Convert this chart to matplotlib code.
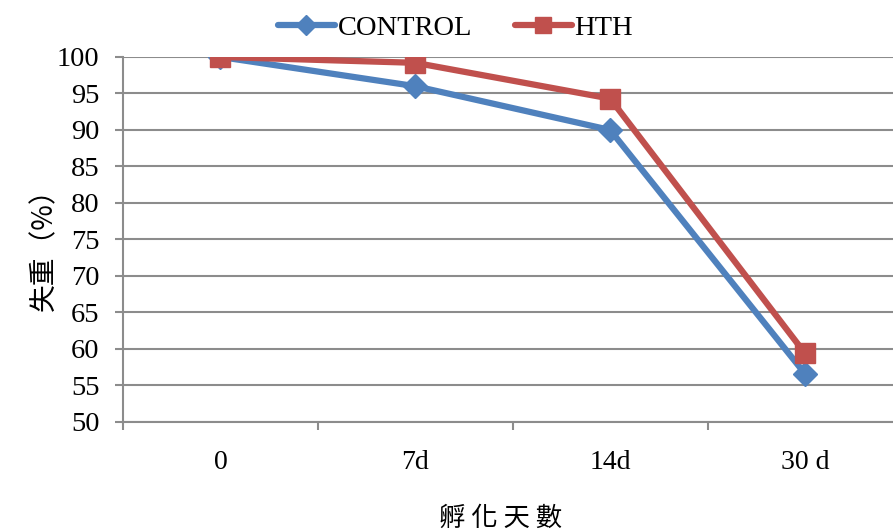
import numpy as np
import matplotlib.pyplot as plt
from matplotlib.lines import Line2D

# 孵化天數ごとの失重データ
days = ['0', '7d', '14d', '30 d']
control = [100, 96.0, 90.0, 56.6]
hth = [100, 99.2, 94.3, 59.4]

blue = '#4F81BD'
red = '#C0504D'
grid_gray = '#8C8C8C'

plt.rcParams['font.family'] = ['Liberation Serif', 'Noto Sans CJK TC']

fig = plt.figure(figsize=(8.93, 5.32), dpi=100)
ax = fig.add_axes([0.1377, 0.2068, 0.8729, 0.6861])

x = np.arange(len(days))
ax.plot(x, control, color=blue, lw=4.5, marker='D', ms=12, mfc=blue, mec=blue,
        solid_capstyle='round', label='CONTROL', zorder=3)
ax.plot(x, hth, color=red, lw=4.5, marker='s', ms=15, mfc=red, mec=red,
        solid_capstyle='round', label='HTH', zorder=4)

ax.set_xlim(-0.5, len(days) - 0.5)
ax.set_ylim(50, 100)
ax.set_yticks(np.arange(50, 101, 5))
ax.yaxis.grid(True, color=grid_gray, lw=1.5)
ax.set_axisbelow(True)

ax.set_xticks(x)
ax.set_xticklabels(days)
ax.set_xticks(np.arange(-0.5, len(days) - 0.5, 1), minor=True)
ax.tick_params(axis='x', which='major', length=0, pad=20, labelsize=20)
ax.tick_params(axis='x', which='minor', length=6, width=1.5, color=grid_gray, direction='out')
ax.tick_params(axis='y', length=6, width=1.5, color=grid_gray, labelsize=20.5, pad=11)

for side in ['top', 'right']:
    ax.spines[side].set_visible(False)
for side in ['left', 'bottom']:
    ax.spines[side].set_color(grid_gray)
    ax.spines[side].set_linewidth(1.5)

ax.set_ylabel('失重（%）', family=['Noto Sans CJK TC'], fontsize=20)
ax.yaxis.set_label_coords(-0.082, 0.49)
fig.text(0.56, 0.0, '孵 化 天 數', family=['Noto Sans CJK TC'], fontsize=19,
         ha='center', va='bottom')

handles = [
    Line2D([], [], color=blue, lw=4.5, marker='D', ms=10, solid_capstyle='round'),
    Line2D([], [], color=red, lw=4.5, marker='s', ms=12, solid_capstyle='round'),
]
fig.legend(handles, ['CONTROL', 'HTH'], loc='upper center', bbox_to_anchor=(0.51, 1.02),
           ncol=2, frameon=False, fontsize=20.5, handlelength=2.0, handletextpad=0.1,
           columnspacing=1.5)

fig.savefig('out.png', dpi=100)
